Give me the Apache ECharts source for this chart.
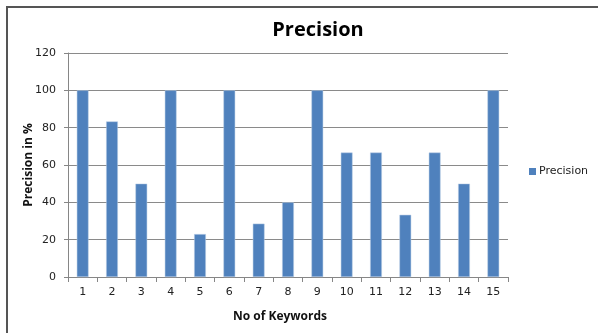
<!DOCTYPE html>
<html>
<head>
<meta charset="utf-8">
<script src="https://cdn.jsdelivr.net/npm/echarts@6/dist/echarts.min.js"></script>
<style>
html,body{margin:0;padding:0;background:#fff;}
#frame{position:absolute;left:6px;top:6px;width:700px;height:400px;border-left:2px solid #555;border-top:2px solid #555;}
#chart{position:absolute;left:0;top:0;width:598px;height:333px;}
</style>
</head>
<body>
<div id="frame"></div>
<div id="chart"></div>
<script>
const categories = ['1','2','3','4','5','6','7','8','9','10','11','12','13','14','15'];
const precisionValues = [100, 83.33, 50, 100, 23, 100, 28.57, 40, 100, 66.67, 66.67, 33.33, 66.67, 50, 100];
const yTicks = [0, 20, 40, 60, 80, 100, 120];

const chart = echarts.init(document.getElementById('chart'), null, {renderer:'canvas'});
const labelFont = 'DejaVu Sans';
chart.setOption({
  animation: false,
  backgroundColor: 'transparent',
  title: {
    text: 'Precision',
    left: 313, top: 15, textAlign: 'center',
    textStyle: {fontFamily: 'Open Sans', fontWeight: 'bold', fontSize: 20, color: '#000'}
  },
  legend: {
    data: ['Precision'],
    left: 529, top: 166, padding: 0,
    itemWidth: 7, itemHeight: 7, itemGap: 4,
    icon: 'rect',
    itemStyle: {borderWidth: 0},
    textStyle: {fontFamily: labelFont, fontSize: 11, color: '#222', padding: [0,0,0,-2]}
  },
  grid: {left: 68, right: 90, top: 53, bottom: 56, containLabel: false},
  xAxis: {
    type: 'category',
    data: categories,
    boundaryGap: true,
    name: 'No of Keywords',
    nameLocation: 'middle',
    nameGap: 34,
    nameMoveOverlap: false,
    nameTextStyle: {fontFamily: 'Open Sans', fontWeight: 'bold', fontSize: 12, color: '#111', padding: [0, 16, 0, 0]},
    axisLine: {show: true, lineStyle: {color: '#868686', width: 1}},
    axisTick: {show: true, length: 5, alignWithLabel: false, lineStyle: {color: '#868686'}},
    axisLabel: {fontFamily: labelFont, fontSize: 11, color: '#222', margin: 10, interval: 0}
  },
  yAxis: {
    type: 'value',
    min: 0, max: 120, interval: 20,
    name: 'Precision in %',
    nameLocation: 'middle',
    nameGap: 33,
    nameRotate: 90,
    nameMoveOverlap: false,
    nameTextStyle: {fontFamily: 'Open Sans', fontWeight: 'bold', fontSize: 12, color: '#111'},
    axisLine: {show: true, lineStyle: {color: '#868686', width: 1}},
    axisTick: {show: true, length: 4, inside: false, lineStyle: {color: '#868686'}},
    axisLabel: {fontFamily: labelFont, fontSize: 11, color: '#222', margin: 12,
      formatter: v => yTicks.includes(v) ? String(v) : ''},
    splitLine: {show: true, lineStyle: {color: '#8a8a8a', width: 1}}
  },
  series: [{
    name: 'Precision',
    type: 'bar',
    data: precisionValues,
    barWidth: '40%',
    itemStyle: {color: '#4F81BD', borderColor: '#b9cde5', borderWidth: 0.5}
  }]
});
</script>
</body>
</html>
